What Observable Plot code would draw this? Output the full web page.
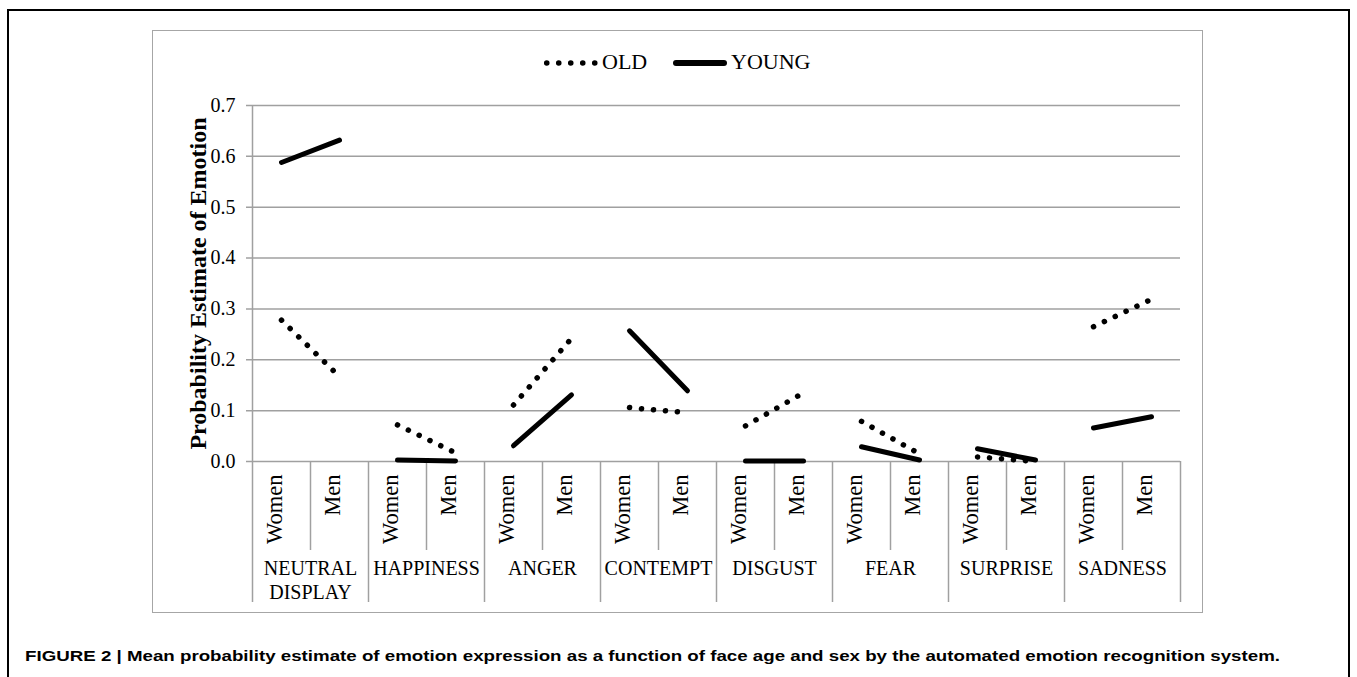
<!DOCTYPE html>
<html>
<head>
<meta charset="utf-8">
<script src="https://cdn.jsdelivr.net/npm/d3@7"></script>
<script src="https://cdn.jsdelivr.net/npm/@observablehq/plot@0.6"></script>
<style>
  html, body { margin: 0; padding: 0; background: #fff; }
  body { width: 1357px; height: 677px; position: relative; overflow: hidden; }
  #outer { position: absolute; left: 7px; top: 9px; width: 1343px; height: 720px; border: 2px solid #000; border-bottom: none; box-sizing: border-box; }
  #inner { position: absolute; left: 152px; top: 30px; width: 1051px; height: 583px; border: 1.5px solid #a6a6a6; box-sizing: border-box; }
  #chart { position: absolute; left: 153px; top: 75px; }
  .leg { position: absolute; font-family: "Liberation Serif", "Times New Roman", serif; font-size: 22px; line-height: 22px; color: #000; white-space: nowrap; }
  #caption { position: absolute; left: 25px; top: 648px; font-family: "Liberation Sans Narrow", "Liberation Sans", Arial, sans-serif; font-weight: bold; font-size: 15.5px; line-height: 16px; color: #000; white-space: nowrap; transform-origin: 0 0; }
</style>
</head>
<body>
<div id="outer"></div>
<div id="inner"></div>
<div id="legend"></div>
<div id="chart"></div>
<div id="caption"></div>
<script>
// ---- data ----
const categories = ["NEUTRAL\nDISPLAY", "HAPPINESS", "ANGER", "CONTEMPT", "DISGUST", "FEAR", "SURPRISE", "SADNESS"];
const sexes = ["Women", "Men"];
const series = ["OLD", "YOUNG"];
const oldWomen   = [0.278, 0.072, 0.111, 0.106, 0.070, 0.079, 0.009, 0.265];
const oldMen     = [0.167, 0.017, 0.242, 0.096, 0.135, 0.015, 0.000, 0.319];
const youngWomen = [0.588, 0.003, 0.031, 0.257, 0.001, 0.029, 0.025, 0.066];
const youngMen   = [0.632, 0.001, 0.131, 0.139, 0.001, 0.003, 0.003, 0.088];
const yTicks = [0, 0.1, 0.2, 0.3, 0.4, 0.5, 0.6, 0.7];
const yTitle = "Probability Estimate of Emotion";
const captionText = "FIGURE 2 | Mean probability estimate of emotion expression as a function of face age and sex by the automated emotion recognition system.";

// ---- table ----
const rows = [];
categories.forEach((c, ci) => {
  sexes.forEach((s, si) => {
    rows.push({cat: c, sex: s, pos: ci * 2 + si, age: series[0], value: (si ? oldMen : oldWomen)[ci]});
    rows.push({cat: c, sex: s, pos: ci * 2 + si, age: series[1], value: (si ? youngMen : youngWomen)[ci]});
  });
});
const sexLabels = rows.filter(d => d.age === series[0]);
const catBounds = categories.map((c, i) => 2 * i + 1.5);
const subBounds = categories.map((c, i) => 2 * i + 0.5);
const gray = "#a0a0a0";

const chart = Plot.plot({
  width: 1049,
  height: 536,
  marginLeft: 99,
  marginRight: 22,
  marginTop: 30,
  marginBottom: 150,
  style: {background: "transparent", fontFamily: "'Liberation Serif', 'Times New Roman', serif", fontSize: "20px", color: "#000", overflow: "visible"},
  x: {type: "linear", domain: [-0.5, categories.length * 2 - 0.5], axis: null},
  y: {domain: [0, 0.7], ticks: yTicks, tickFormat: d3.format(".1f"), tickSize: 0, tickPadding: 17, label: null},
  marks: [
    Plot.ruleY(yTicks, {stroke: gray, strokeWidth: 1.5, insetLeft: -6}),
    Plot.ruleX([-0.5], {stroke: gray, strokeWidth: 1.5, insetBottom: -141}),
    Plot.ruleX(catBounds, {y1: 0, y2: 0, stroke: gray, strokeWidth: 1.5, insetBottom: -141}),
    Plot.ruleX(subBounds, {y1: 0, y2: 0, stroke: gray, strokeWidth: 1.5, insetBottom: -89}),
    Plot.line(rows.filter(d => d.age === series[0]), {x: "pos", y: "value", z: "cat", stroke: "#000", strokeWidth: 5.5, strokeDasharray: "0.1 11.9", strokeLinecap: "round"}),
    Plot.line(rows.filter(d => d.age === series[1]), {x: "pos", y: "value", z: "cat", stroke: "#000", strokeWidth: 5, strokeLinecap: "round"}),
    Plot.text(sexLabels, {x: "pos", text: "sex", frameAnchor: "bottom", rotate: -90, textAnchor: "end", dy: 13, fontSize: 22.5, fill: "#000"}),
    Plot.text(categories, {x: (d, i) => 2 * i + 0.5, text: d => d, frameAnchor: "bottom", lineAnchor: "top", lineHeight: 1.2, dy: 96, fontSize: 20, fill: "#000"}),
    Plot.text([yTitle], {text: d => d, frameAnchor: "left", textAnchor: "middle", rotate: -90, dx: -54, fontWeight: "bold", fontSize: 24, fill: "#000"})
  ]
});
document.getElementById("chart").appendChild(chart);

// ---- legend ----
const legend = document.getElementById("legend");
function swatch(left, dashed) {
  const ns = "http://www.w3.org/2000/svg";
  const svg = document.createElementNS(ns, "svg");
  svg.setAttribute("width", 56); svg.setAttribute("height", 12);
  svg.style.position = "absolute"; svg.style.left = left + "px"; svg.style.top = "56.5px";
  const ln = document.createElementNS(ns, "line");
  ln.setAttribute("x1", dashed ? 3.7 : 4); ln.setAttribute("x2", dashed ? 53 : 52);
  ln.setAttribute("y1", 6); ln.setAttribute("y2", 6);
  ln.setAttribute("stroke", "#000");
  ln.setAttribute("stroke-width", dashed ? 5.5 : 6);
  ln.setAttribute("stroke-linecap", "round");
  if (dashed) ln.setAttribute("stroke-dasharray", "0.1 11.9");
  svg.appendChild(ln);
  legend.appendChild(svg);
}
function label(left, txt) {
  const s = document.createElement("div");
  s.className = "leg"; s.style.left = left + "px"; s.style.top = "51px";
  s.textContent = txt;
  legend.appendChild(s);
}
swatch(543, true);  label(602, series[0]);
swatch(672, false); label(731, series[1]);

// ---- caption ----
const cap = document.getElementById("caption");
cap.textContent = captionText;
const w = cap.getBoundingClientRect().width;
cap.style.transform = `scaleX(${1255 / w})`;
</script>
</body>
</html>
